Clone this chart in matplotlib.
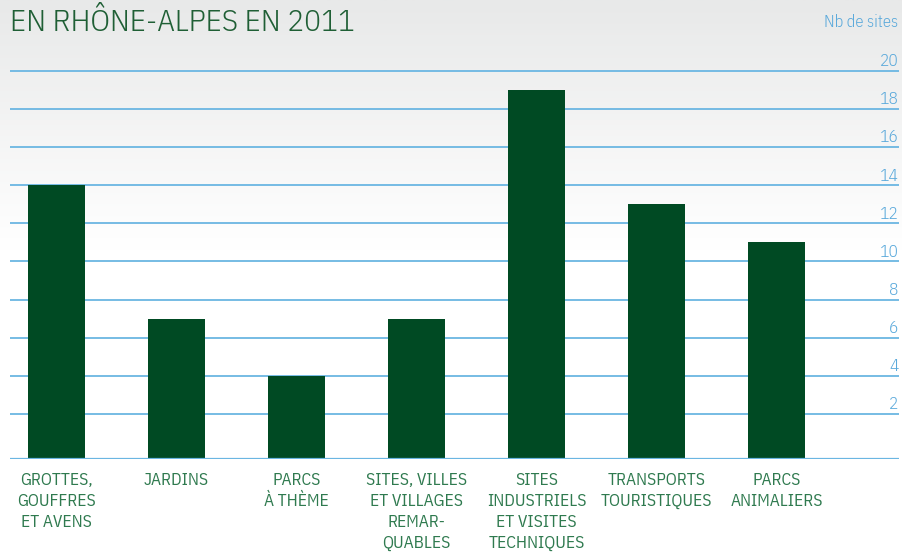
import numpy as np
import matplotlib
matplotlib.use("Agg")
import matplotlib.pyplot as plt
from matplotlib.colors import LinearSegmentedColormap
from matplotlib.transforms import blended_transform_factory

# Data
categories = [
    "GROTTES,\nGOUFFRES\nET AVENS",
    "JARDINS",
    "PARCS\nÀ THÈME",
    "SITES, VILLES\nET VILLAGES\nREMAR-\nQUABLES",
    "SITES\nINDUSTRIELS\nET VISITES\nTECHNIQUES",
    "TRANSPORTS\nTOURISTIQUES",
    "PARCS\nANIMALIERS",
]
sites = [14, 7, 4, 7, 19, 13, 11]
y_ticks = [2, 4, 6, 8, 10, 12, 14, 16, 18, 20]
title = "EN RHÔNE-ALPES EN 2011"
unit_label = "Nb de sites"

FONT = ["IBM Plex Sans Condensed", "DejaVu Sans"]
plt.rcParams["font.family"] = FONT

BAR = "#004a23"
GRID = "#6bb6e2"
TICK = "#5aa9db"
LABEL = "#2f7a4f"
TITLE = "#1f5f35"

W, H = 902, 554
fig = plt.figure(figsize=(W / 100, H / 100), dpi=100)

# soft grey-to-white background
bg = fig.add_axes([0, 0, 1, 1], zorder=-10)
grad = np.linspace(0, 1, 256).reshape(-1, 1)
cmap = LinearSegmentedColormap.from_list(
    "bg", [(0.0, "#e8e9e9"), (0.45, "#ffffff"), (1.0, "#ffffff")])
bg.imshow(grad, aspect="auto", cmap=cmap, extent=[0, 1, 0, 1], origin="upper")
bg.set_axis_off()

# plot area in pixels
left_px, right_px = 10, 899
top_px, base_px = 60, 459
ax = fig.add_axes([left_px / W, 1 - base_px / H,
                   (right_px - left_px) / W, (base_px - top_px) / H])
ax.set_facecolor("none")

base = -0.37
ax.set_ylim(base, 20 + 11 / 19.05)
x = np.arange(len(categories))
bar_w = 0.475
ax.set_xlim(-0.3875, 7.02)

for t in y_ticks:
    ax.axhline(t, color=GRID, lw=1.3, zorder=1)
ax.axhline(base, color=GRID, lw=1.6, zorder=3)

ax.bar(x, np.array(sites) - base, bottom=base, width=bar_w, color=BAR, zorder=2)

for s in ax.spines.values():
    s.set_visible(False)
ax.set_xticks([])
ax.set_yticks([])

# value labels sitting just above each gridline at the right edge
tr = blended_transform_factory(ax.transAxes, ax.transData)
for t in y_ticks:
    ax.text(0.9995, t + 0.25, str(t), transform=tr, ha="right", va="baseline",
            color=TICK, fontsize=12.5, fontweight=300)

# category labels under the bars
trx = blended_transform_factory(ax.transData, ax.transAxes)
for xi, lab in zip(x, categories):
    ax.text(xi, -0.033, lab, transform=trx, ha="center", va="top",
            color=LABEL, fontsize=12.5, fontweight=400, linespacing=1.38)

fig.text(10 / W, 1 - 31 / H, title, ha="left", va="baseline",
         color=TITLE, fontsize=22.5, fontweight=300)
fig.text(898 / W, 1 - 27 / H, unit_label, ha="right", va="baseline",
         color=TICK, fontsize=12, fontweight=300)

fig.savefig("out.png", dpi=100)
